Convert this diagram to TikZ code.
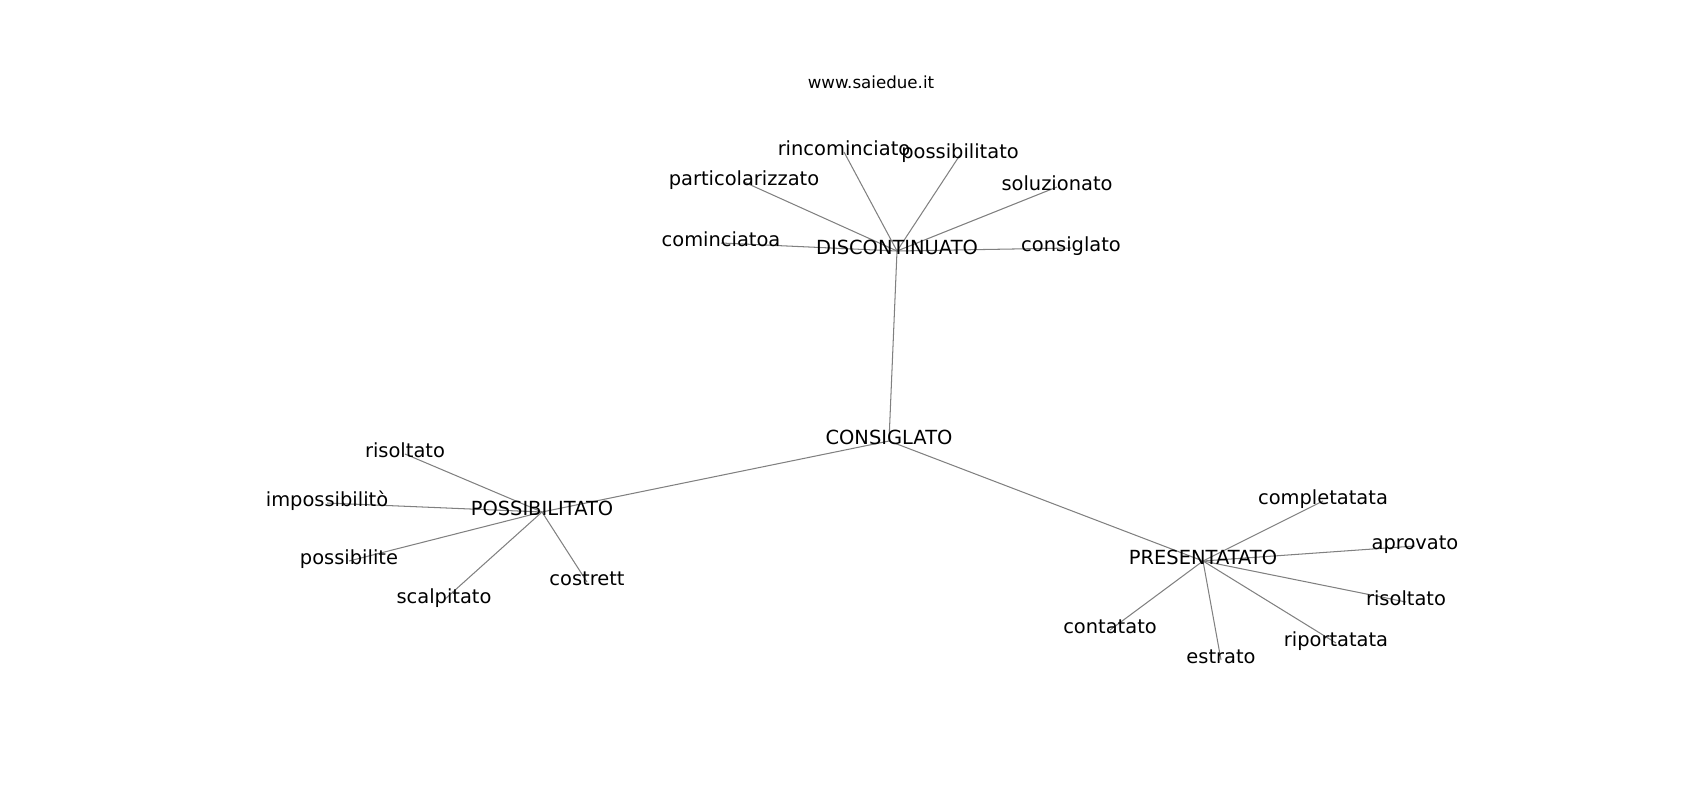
\documentclass[tikz,border=0pt]{standalone}
\usepackage{fontspec}
\setmainfont{DejaVu Sans}
\pgfdeclarelayer{fond}
\pgfsetlayers{fond,main}

\begin{document}
\begin{tikzpicture}[x=0.72pt, y=-0.72pt,
    mot/.style={font=\fontsize{14}{16}\selectfont, text height=0.76em, text depth=0.24em, inner sep=0pt},
    lien/.style={draw=gray, line width=0.75pt}]
  \useasboundingbox (0,0) rectangle (1700,800);

  \node[font=\fontsize{12}{14}\selectfont] (titre) at (871,82) {www.saiedue.it};

  % les quatre centres
  \node[mot] (consiglato) at (889,441) {CONSIGLATO};
  \node[mot] (disc) at (897,251) {DISCONTINUATO};
  \node[mot] (poss) at (542,512) {POSSIBILITATO};
  \node[mot] (pres) at (1203,561) {PRESENTATATO};

  \begin{pgfonlayer}{fond}
    \foreach \centre in {disc, poss, pres}
      \draw[lien] (consiglato.center) -- (\centre.center);
  \end{pgfonlayer}

  % les feuilles
  \foreach \centre/\nom/\x/\y/\mot in {
      disc/d1/844/152/rincominciato, disc/d2/960/155/possibilitato,
      disc/d3/744/182/particolarizzato, disc/d4/1057/187/soluzionato,
      disc/d5/721/243/cominciatoa, disc/d6/1071/248/consiglato,
      poss/p1/405/454/risoltato, poss/p2/327/503/impossibilitò,
      poss/p3/349/561/possibilite, poss/p4/444/600/scalpitato,
      poss/p5/587/582/costrett,
      pres/r1/1323/501/completatata, pres/r2/1415/546/aprovato,
      pres/r3/1406/602/risoltato, pres/r4/1336/643/riportatata,
      pres/r5/1221/660/estrato, pres/r6/1110/630/contatato} {
    \node[mot] (\nom) at (\x,\y) {\mot};
    \begin{pgfonlayer}{fond}
      \draw[lien] (\centre.center) -- (\nom.center);
    \end{pgfonlayer}
  }
\end{tikzpicture}
\end{document}
